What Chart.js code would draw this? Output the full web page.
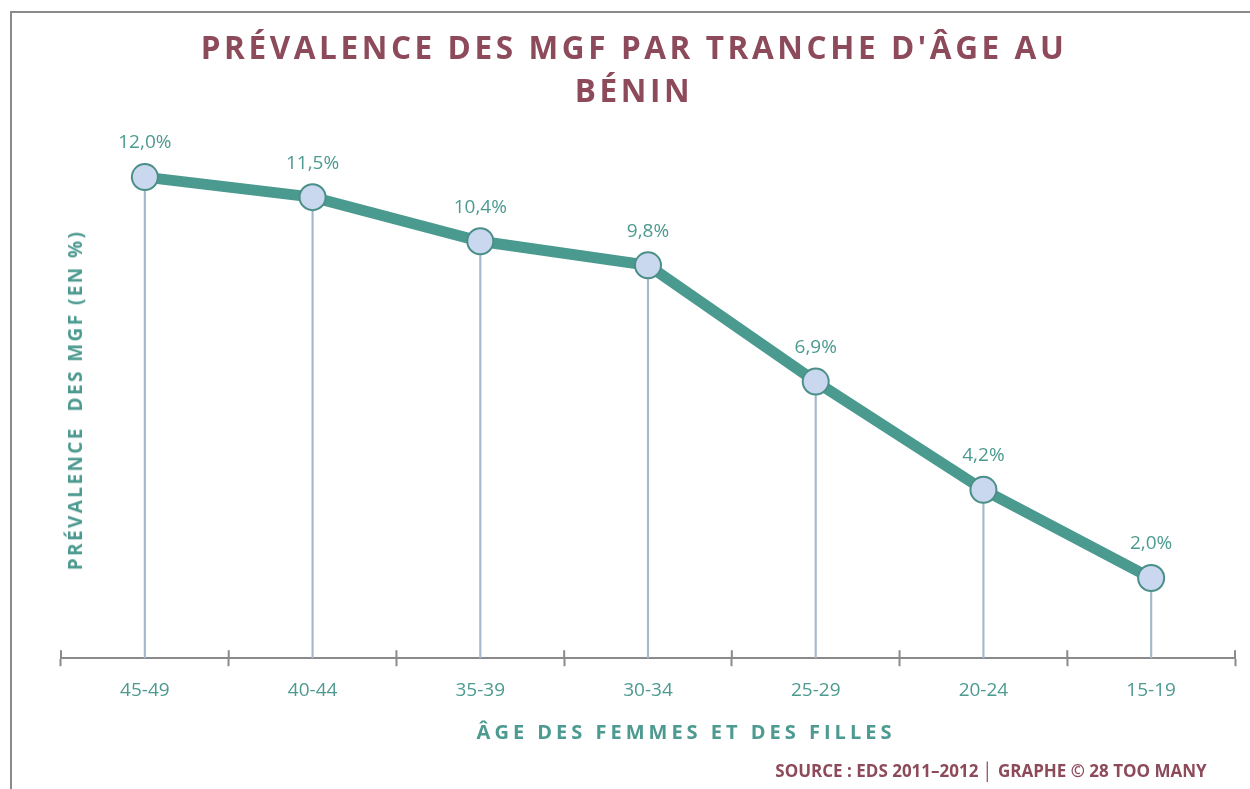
<!DOCTYPE html>
<html>
<head>
<meta charset="utf-8">
<script src="https://cdn.jsdelivr.net/npm/chart.js@4"></script>
<style>
    body { margin: 0; background: #fff; }
    #wrap { position: relative; width: 1250px; height: 789px; overflow: hidden; font-family: "Open Sans", sans-serif; }
    #frame { position: absolute; left: 10px; top: 11px; right: -5px; bottom: -5px; border-left: 2px solid #8a8a8a; border-top: 2px solid #8a8a8a; }
    #chart { position: absolute; left: 0; top: 0; }
    .title { position: absolute; left: 0; width: 1268px; text-align: center; color: #8c4a5b; font-weight: 700; font-size: 31.5px; letter-spacing: 3.6px; line-height: 43px; top: 25px; }
    .ytitle { position: absolute; left: 75px; top: 400px; transform: translate(-50%, -50%) rotate(-90deg); white-space: pre; color: #4d9a90; font-weight: 700; font-size: 19px; letter-spacing: 2.4px; }
    .xtitle { position: absolute; left: 686px; top: 731px; transform: translate(-50%, -50%); white-space: pre; color: #4d9a90; font-weight: 700; font-size: 20px; letter-spacing: 4px; }
    .source { position: absolute; left: 991px; top: 770px; transform: translate(-50%, -50%); white-space: pre; color: #8c4a5b; font-weight: 700; font-size: 17px; letter-spacing: 0; }
</style>
</head>
<body>
<div id="wrap">
    <div id="frame"></div>
    <canvas id="chart" width="1250" height="789"></canvas>
    <div class="title">PRÉVALENCE DES MGF PAR TRANCHE D'ÂGE AU<br>BÉNIN</div>
    <div class="ytitle">PRÉVALENCE  DES MGF (EN %)</div>
    <div class="xtitle">ÂGE DES FEMMES ET DES FILLES</div>
    <div class="source">SOURCE : EDS 2011–2012 │ GRAPHE © 28 TOO MANY</div>
</div>
<script>
const ageGroups = ['45-49', '40-44', '35-39', '30-34', '25-29', '20-24', '15-19'];
const prevalence = [12.0, 11.5, 10.4, 9.8, 6.9, 4.2, 2.0];
const yMin = 0;
const yMax = 13;

const teal = '#4b9a90';

// labels above the points, French decimal comma
const pointLabels = {
    id: 'pointLabels',
    afterDatasetsDraw(chart) {
        const ctx = chart.ctx;
        const meta = chart.getDatasetMeta(1);
        ctx.save();
        ctx.font = '19px "Open Sans"';
        ctx.fillStyle = '#4d9a90';
        ctx.textAlign = 'center';
        ctx.textBaseline = 'middle';
        meta.data.forEach((pt, i) => {
            const txt = prevalence[i].toFixed(1).replace('.', ',') + '%';
            ctx.fillText(txt, pt.x, pt.y - 34);
        });
        ctx.restore();
    }
};

// tick marks on the axis go up as well as down
const upTicks = {
    id: 'upTicks',
    afterDraw(chart) {
        const ctx = chart.ctx;
        const x = chart.scales.x;
        const half = (x.getPixelForValue(1) - x.getPixelForValue(0)) / 2;
        ctx.save();
        ctx.strokeStyle = '#8a8a8a';
        ctx.lineWidth = 2;
        ctx.beginPath();
        for (let i = 0; i <= ageGroups.length; i++) {
            const px = x.getPixelForValue(i) - half;
            ctx.moveTo(px, x.top - 8);
            ctx.lineTo(px, x.top);
        }
        ctx.stroke();
        ctx.restore();
    }
};

new Chart(document.getElementById('chart'), {
    type: 'bar',
    data: {
        labels: ageGroups,
        datasets: [{
            type: 'bar',
            data: prevalence,
            backgroundColor: '#a5b9cc',
            barThickness: 1.5,
            order: 2
        }, {
            type: 'line',
            data: prevalence,
            borderColor: teal,
            borderWidth: 11,
            pointRadius: 13,
            pointBackgroundColor: '#c9d7ef',
            pointBorderColor: '#4a8f88',
            pointBorderWidth: 2,
            tension: 0,
            order: 1
        }]
    },
    options: {
        responsive: false,
        animation: false,
        layout: {
            padding: { top: 137, left: 61, right: 13, bottom: 74 }
        },
        scales: {
            x: {
                offset: true,
                grid: {
                    offset: true,
                    drawOnChartArea: false,
                    tickLength: 8,
                    tickWidth: 2,
                    color: '#8a8a8a'
                },
                border: { color: '#8a8a8a', width: 2 },
                ticks: {
                    color: '#4d9a90',
                    padding: 13,
                    font: { family: 'Open Sans', size: 19 }
                }
            },
            y: {
                display: false,
                min: yMin,
                max: yMax
            }
        },
        plugins: {
            legend: { display: false },
            tooltip: { enabled: false }
        }
    },
    plugins: [pointLabels, upTicks]
});
</script>
</body>
</html>
